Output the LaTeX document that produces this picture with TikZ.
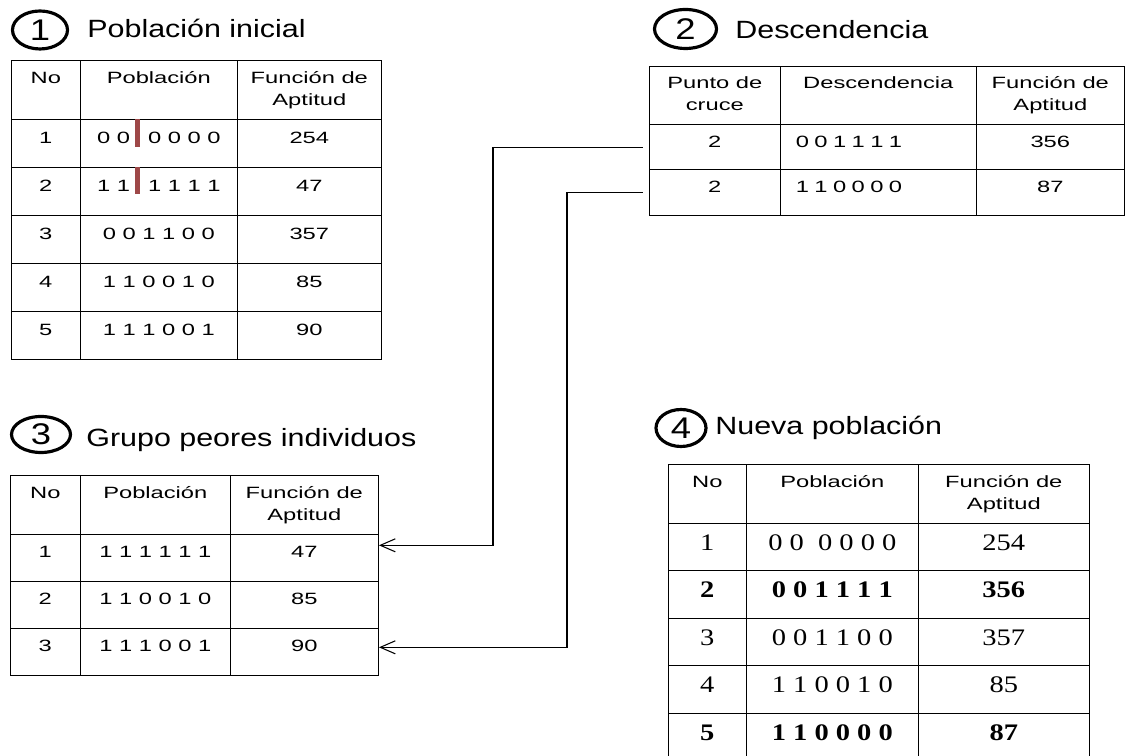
\documentclass[tikz,border=0pt]{standalone}
\usepackage{fontspec}
\setmainfont{Liberation Sans}
\newfontfamily\celda[FakeStretch=1.45]{Liberation Sans}
\newfontfamily\titulo[FakeStretch=1.22]{Liberation Sans}
\newfontfamily\serifa[FakeStretch=1.2]{Liberation Serif}
\usetikzlibrary{matrix, shapes.geometric, arrows.meta}

\newcommand{\letracelda}{\celda\fontsize{9.3}{12.5}\selectfont}
\newcommand{\letraserif}{\serifa\fontsize{13.5}{16}\selectfont}
\newcommand{\letratitulo}{\titulo\fontsize{14.2}{17}\selectfont}
% encabezado de dos renglones
\newcommand{\cabecera}[2]{\begin{tabular}{@{}c@{}}#1\\#2\strut\end{tabular}}
\definecolor{cruce}{RGB}{158,72,72}

\begin{document}
\begin{tikzpicture}[
        numero/.style={ellipse, draw, line width=1.8pt, inner sep=0pt, minimum width=1.1cm, minimum height=0.76cm, font=\titulo\fontsize{17}{20}\selectfont},
        titulo/.style={anchor=base west, inner sep=0pt, font=\letratitulo},
        tabla/.style={matrix of nodes, anchor=north west, inner sep=0pt, line width=0.75pt,
            row sep=-0.75pt, column sep=-0.75pt,
            nodes={draw, line width=0.75pt, inner sep=1pt, anchor=center, minimum height=0.96cm,
                text height=0.24cm, text depth=0.24cm, font=\letracelda},
            row 1/.style={nodes={text height=, text depth=, minimum height=1.18cm}}},
        izq/.style={text width=3.3cm, align=left},
        flecha/.style={->, line width=0.6pt, >={Straight Barb[length=0.3cm, width=0.26cm]}}
    ]
    \useasboundingbox (0,0) rectangle (22.5,15.1);
    \clip (0,0) rectangle (22.5,15.1);

    % 1 - poblacion inicial
    \node[numero] (n1) at (0.8,14.5) {1};
    \node[titulo] (t1) at (1.74,14.34) {Población inicial};
    \matrix[tabla, column 1/.style={nodes={minimum width=1.38cm}}, column 2/.style={nodes={minimum width=3.14cm}},
        column 3/.style={nodes={minimum width=2.88cm}}] (ini) at (0.2,13.92) {
        \cabecera{No}{} & \cabecera{Población}{} & \cabecera{Función de}{Aptitud} \\
        1 & 0 0\hspace{0.36cm}0 0 0 0 & 254 \\
        2 & 1 1\hspace{0.36cm}1 1 1 1 & 47 \\
        3 & 0 0 1 1 0 0 & 357 \\
        4 & 1 1 0 0 1 0 & 85 \\
        5 & 1 1 1 0 0 1 & 90 \\
    };
    % punto de cruce
    \fill[cruce] ([xshift=1.11cm]ini-2-2.north west) rectangle ++(0.09,-0.56);
    \fill[cruce] ([xshift=1.11cm]ini-3-2.north west) rectangle ++(0.09,-0.54);

    % 2 - descendencia
    \node[numero, minimum width=1.24cm, minimum height=0.78cm] (n2) at (13.71,14.52) {2};
    \node[titulo] (t2) at (14.7,14.32) {Descendencia};
    \matrix[tabla, column 1/.style={nodes={minimum width=2.62cm}}, column 2/.style={nodes={minimum width=3.92cm}},
        column 3/.style={nodes={minimum width=2.96cm}}, nodes={minimum height=0.91cm},
        row 1/.append style={nodes={minimum height=1.16cm}}] (des) at (12.96,13.8) {
        \cabecera{Punto de}{cruce} & \cabecera{Descendencia}{} & \cabecera{Función de}{Aptitud} \\
        2 & |[izq]| 0 0 1 1 1 1 & 356 \\
        2 & |[izq]| 1 1 0 0 0 0 & 87 \\
    };

    % 3 - grupo peores individuos
    \node[numero, minimum width=1.18cm, minimum height=0.72cm] (n3) at (0.82,6.41) {3};
    \node[titulo] (t3) at (1.72,6.16) {Grupo peores individuos};
    \matrix[tabla, column 1/.style={nodes={minimum width=1.4cm}}, column 2/.style={nodes={minimum width=3cm}},
        column 3/.style={nodes={minimum width=2.96cm}}, nodes={minimum height=0.94cm}] (peo) at (0.18,5.62) {
        \cabecera{No}{} & \cabecera{Población}{} & \cabecera{Función de}{Aptitud} \\
        1 & 1 1 1 1 1 1 & 47 \\
        2 & 1 1 0 0 1 0 & 85 \\
        3 & 1 1 1 0 0 1 & 90 \\
    };

    % 4 - nueva poblacion
    \node[numero, minimum width=1.0cm, minimum height=0.74cm] (n4) at (13.62,6.54) {4};
    \node[titulo] (t4) at (14.3,6.4) {Nueva población};
    \matrix[tabla, column 1/.style={nodes={minimum width=1.56cm}}, column 2/.style={nodes={minimum width=3.44cm}},
        column 3/.style={nodes={minimum width=3.42cm}}, nodes={minimum height=0.95cm, font=\letraserif, text depth=0.12cm},
        row 1/.append style={nodes={font=\letracelda}},
        row 3/.style={nodes={font=\letraserif\bfseries}},
        row 6/.style={nodes={font=\letraserif\bfseries}}] (nue) at (13.34,5.84) {
        \cabecera{No}{} & \cabecera{Población}{} & \cabecera{Función de}{Aptitud} \\
        1 & 0 0~~0 0 0 0 & 254 \\
        2 & 0 0 1 1 1 1 & 356 \\
        3 & 0 0 1 1 0 0 & 357 \\
        4 & 1 1 0 0 1 0 & 85 \\
        5 & 1 1 0 0 0 0 & 87 \\
    };

    % hijos reemplazan a los peores
    \coordinate (codo1) at (9.86,8);
    \coordinate (codo2) at (11.34,8);
    \draw[flecha] ([xshift=-0.12cm]des-2-1.west) -| (codo1) |- ([yshift=0.25cm]peo-2-3.east);
    \draw[flecha] ([xshift=-0.12cm]des-3-1.west) -| (codo2) |- ([yshift=0.09cm]peo-4-3.east);
\end{tikzpicture}
\end{document}
